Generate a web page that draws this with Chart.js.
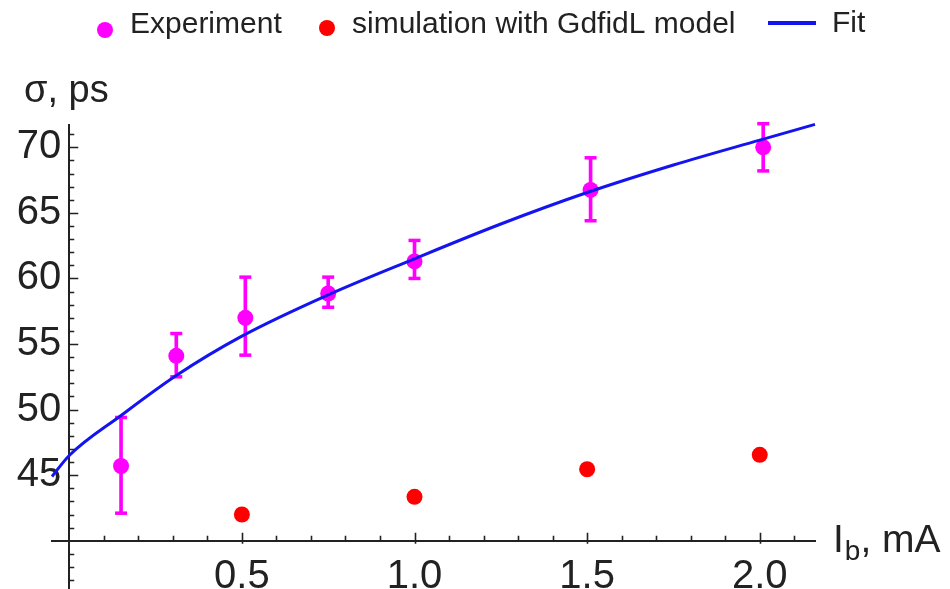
<!DOCTYPE html>
<html>
<head>
<meta charset="utf-8">
<script src="https://cdn.jsdelivr.net/npm/chart.js@4.4.1/dist/chart.umd.min.js"></script>
<style>
  html, body { margin: 0; padding: 0; background: #fff; }
  #wrap { width: 950px; height: 589px; }
</style>
</head>
<body>
<div id="wrap"><canvas id="sigmaChart"></canvas></div>
<script>
// bunch current, mA
const expX = [0.15, 0.31, 0.51, 0.75, 1.0, 1.51, 2.01];
// measured bunch length, ps, with error bar ends
const expY = [45.7, 54.1, 57.0, 58.85, 61.3, 66.75, 70.0];
const expLow = [42.1, 52.5, 54.15, 57.8, 60.0, 64.4, 68.2];
const expHigh = [49.4, 55.8, 60.1, 60.1, 62.9, 69.2, 71.8];

// GdfidL simulation
const simX = [0.5, 1.0, 1.5, 2.0];
const simY = [42.0, 43.35, 45.45, 46.55];

// fit curve
const fitX = [-0.05, 0, 0.15, 0.31, 0.5, 0.75, 1.0, 1.25, 1.5, 1.75, 2.0, 2.16];
const fitY = [44.9, 46.5, 49.55, 52.6, 55.6, 58.75, 61.5, 64.15, 66.55, 68.65, 70.55, 71.75];

const xTickValues = [0.5, 1.0, 1.5, 2.0];
const yTickValues = [45, 50, 55, 60, 65, 70];

const legendItems = ['Experiment', 'simulation with GdfidL model', 'Fit'];

const MAGENTA = '#ff00ff';
const RED = '#ff0000';
const BLUE = '#1414f0';
const INK = '#222222';
const FONT = "'Liberation Sans', Arial, sans-serif";

const pts = (xs, ys) => xs.map((x, i) => ({ x: x, y: ys[i] }));
const noPad = (s) => { s.paddingTop = 0; s.paddingBottom = 0; s.paddingLeft = 0; s.paddingRight = 0; };

// Mathematica style inward ticks, legend and axis labels
const decorations = {
  id: 'decorations',
  afterDraw(chart) {
    const ctx = chart.ctx;
    const xs = chart.scales.x, ys = chart.scales.y;
    const x0 = xs.getPixelForValue(0);
    const y0 = ys.getPixelForValue(40);
    ctx.save();
    ctx.strokeStyle = INK;
    ctx.lineWidth = 1.6;
    ctx.beginPath();
    for (let v = Math.ceil(ys.min); v <= Math.floor(ys.max); v++) {
      if (v === 40) continue;
      const py = Math.round(ys.getPixelForValue(v)) + 0.5;
      ctx.moveTo(x0, py);
      ctx.lineTo(x0 + (v % 5 === 0 ? 9 : 5), py);
    }
    for (let i = 1; i <= Math.floor(xs.max * 10); i++) {
      const px = Math.round(xs.getPixelForValue(i / 10)) + 0.5;
      ctx.moveTo(px, i % 5 === 0 ? y0 + 3 : y0);
      ctx.lineTo(px, y0 - (i % 5 === 0 ? 8 : 5));
    }
    ctx.stroke();

    // legend
    ctx.textBaseline = 'middle';
    ctx.textAlign = 'left';
    ctx.font = '30px ' + FONT;
    ctx.fillStyle = MAGENTA;
    ctx.beginPath(); ctx.arc(105, 30, 8, 0, Math.PI * 2); ctx.fill();
    ctx.fillStyle = RED;
    ctx.beginPath(); ctx.arc(327, 28, 8, 0, Math.PI * 2); ctx.fill();
    ctx.strokeStyle = BLUE;
    ctx.lineWidth = 4;
    ctx.beginPath(); ctx.moveTo(768, 23); ctx.lineTo(816, 23); ctx.stroke();
    ctx.fillStyle = INK;
    ctx.fillText(legendItems[0], 130, 25);
    ctx.fillText(legendItems[1], 352, 25);
    ctx.fillText(legendItems[2], 832, 24);

    // axis labels
    ctx.font = '38px ' + FONT;
    ctx.fillText('σ, ps', 24, 92);
    const lx = xs.right + 18;
    ctx.font = '39px ' + FONT;
    ctx.fillText('I', lx, y0 + 1);
    let w = ctx.measureText('I').width;
    ctx.font = '28px ' + FONT;
    ctx.fillText('b', lx + w + 1, y0 + 12);
    w += ctx.measureText('b').width + 1;
    ctx.font = '39px ' + FONT;
    ctx.fillText(', mA', lx + w, y0 + 1);
    ctx.restore();
  }
};

new Chart(document.getElementById('sigmaChart'), {
  type: 'scatter',
  data: {
    datasets: [
      {
        label: 'Fit',
        type: 'line',
        data: pts(fitX, fitY),
        borderColor: BLUE,
        borderWidth: 3,
        pointRadius: 0,
        cubicInterpolationMode: 'monotone',
        fill: false,
        clip: false,
        order: 1
      },
      {
        label: 'simulation with GdfidL model',
        data: pts(simX, simY),
        backgroundColor: RED,
        borderWidth: 0,
        pointRadius: 8,
        order: 2
      },
      {
        label: 'Experiment',
        data: pts(expX, expY),
        backgroundColor: MAGENTA,
        borderWidth: 0,
        pointRadius: 8,
        clip: false,
        order: 3
      },
      {
        label: 'caps',
        data: pts(expX, expLow).concat(pts(expX, expHigh)),
        pointStyle: 'line',
        pointRadius: 6,
        borderColor: MAGENTA,
        borderWidth: 3.5,
        clip: false,
        order: 4
      },
      {
        label: 'errors',
        type: 'bar',
        data: expX.map((x, i) => ({ x: x, y: [expLow[i], expHigh[i]] })),
        backgroundColor: MAGENTA,
        barThickness: 3,
        borderWidth: 0,
        clip: false,
        order: 5
      }
    ]
  },
  options: {
    responsive: true,
    maintainAspectRatio: false,
    animation: false,
    layout: { autoPadding: false, padding: { left: 52, right: 135, top: 125, bottom: 0 } },
    plugins: {
      legend: { display: false },
      tooltip: { enabled: false }
    },
    scales: {
      x: {
        type: 'linear',
        min: -0.05,
        max: 2.16,
        offset: false,
        position: { y: 40 },
        grid: { display: false, drawTicks: false, offset: false },
        border: { display: true, color: INK, width: 2 },
        afterBuildTicks: (s) => { s.ticks = xTickValues.map(v => ({ value: v })); },
        afterFit: noPad,
        ticks: {
          autoSkip: false,
          maxRotation: 0,
          padding: 12,
          color: INK,
          font: { family: FONT, size: 40 },
          callback: (v) => Number(v).toFixed(1)
        }
      },
      y: {
        type: 'linear',
        min: 36.32,
        max: 71.7,
        position: { x: 0 },
        grid: { display: false, drawTicks: false },
        border: { display: true, color: INK, width: 2 },
        afterBuildTicks: (s) => { s.ticks = yTickValues.map(v => ({ value: v })); },
        afterFit: noPad,
        ticks: {
          autoSkip: false,
          padding: 12,
          color: INK,
          font: { family: FONT, size: 40 },
          // a thin space keeps the label clear of the axis line
          callback: (v) => String(v) + '\u2009'
        }
      }
    }
  },
  plugins: [decorations]
});
</script>
</body>
</html>
